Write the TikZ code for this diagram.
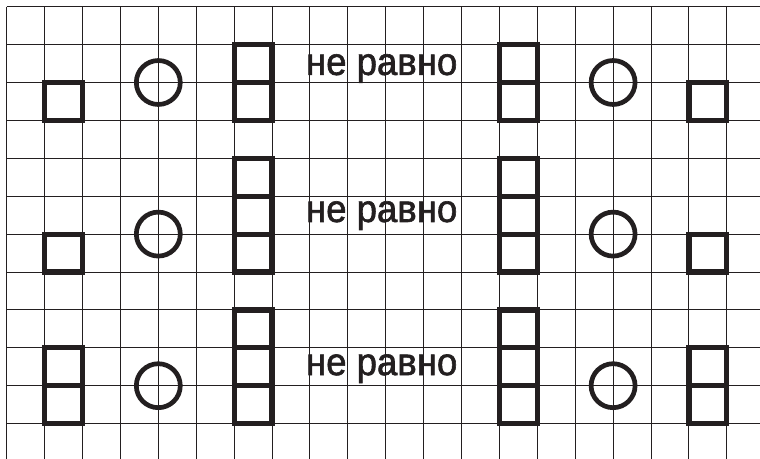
\documentclass[tikz,border=0pt]{standalone}
\usepackage{fontspec}
\setmainfont{Liberation Sans}
\newfontfamily\lblfont[FakeBold=1.6]{Liberation Sans}
\definecolor{ink}{HTML}{231F20}
\begin{document}
\begin{tikzpicture}[x=37.9pt,y=-37.9pt,
  gridline/.style={line width=1pt,draw=ink},
  fig/.style={line width=5.2pt,draw=ink,line cap=rect},
  ring/.style={line width=4.7pt,draw=ink},
  label/.style={anchor=base,inner sep=0pt,text=ink,font=\lblfont\fontsize{38.5}{38.5}\selectfont,xscale=0.95}]
\useasboundingbox (-0.1768,-0.1768) rectangle (19.876,11.908);
\fill[white] (-0.1768,-0.1768) rectangle (19.876,11.908);
% grid
\foreach \i in {0,...,19} \draw[gridline] (\i,0) -- (\i,11.95);
\foreach \j in {0,...,11} \draw[gridline] (0,\j) -- (19.95,\j);
% top row
\draw[fig] (1,2) rectangle (2,3);
\draw[ring] (4,2) circle[radius=0.58];
\draw[fig] (6,1) rectangle (7,3) (6,2) -- (7,2);
\node[label] (t1) at (9.894,1.80) {не равно};
\draw[fig] (13,1) rectangle (14,3) (13,2) -- (14,2);
\draw[ring] (16,2) circle[radius=0.58];
\draw[fig] (18,2) rectangle (19,3);
% middle row
\draw[fig] (1,6) rectangle (2,7);
\draw[ring] (4,6) circle[radius=0.58];
\draw[fig] (6,4) rectangle (7,7) (6,5) -- (7,5) (6,6) -- (7,6);
\node[label] (t2) at (9.894,5.68) {не равно};
\draw[fig] (13,4) rectangle (14,7) (13,5) -- (14,5) (13,6) -- (14,6);
\draw[ring] (16,6) circle[radius=0.58];
\draw[fig] (18,6) rectangle (19,7);
% bottom row
\draw[fig] (1,9) rectangle (2,11) (1,10) -- (2,10);
\draw[ring] (4,10) circle[radius=0.58];
\draw[fig] (6,8) rectangle (7,11) (6,9) -- (7,9) (6,10) -- (7,10);
\node[label] (t3) at (9.894,9.72) {не равно};
\draw[fig] (13,8) rectangle (14,11) (13,9) -- (14,9) (13,10) -- (14,10);
\draw[ring] (16,10) circle[radius=0.58];
\draw[fig] (18,9) rectangle (19,11) (18,10) -- (19,10);
\end{tikzpicture}
\end{document}
